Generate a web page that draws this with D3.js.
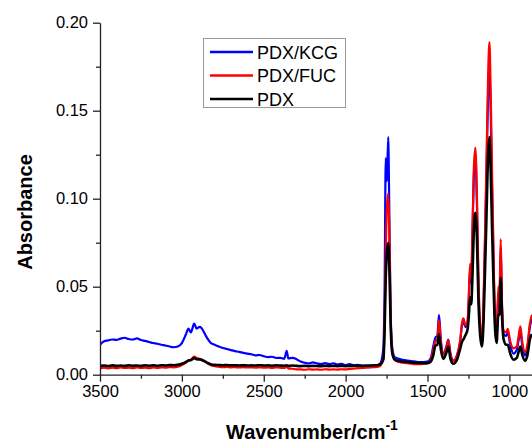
<!DOCTYPE html>
<html>
<head>
<meta charset="utf-8">
<script src="https://cdn.jsdelivr.net/npm/d3@7"></script>
<style>
  html, body { margin: 0; padding: 0; background: #fff; }
  svg { display: block; font-family: "Liberation Sans", Arial, sans-serif; }
</style>
</head>
<body>
<svg id="chart" width="532" height="444"></svg>
<script>
// FTIR spectra: wavenumber (cm^-1) and absorbance of each sample
const wavenumbers = [
  3500, 3475, 3450, 3425, 3400, 3375, 3350, 3325, 3300, 3275, 3250, 3225, 3200, 3175, 3150, 3125,
  3100, 3075, 3050, 3025, 3000, 2975, 2960, 2945, 2925, 2910, 2890, 2875, 2850, 2825, 2800, 2775,
  2750, 2725, 2700, 2675, 2650, 2625, 2600, 2575, 2550, 2525, 2500, 2475, 2450, 2425, 2400, 2375,
  2360, 2350, 2325, 2300, 2275, 2250, 2225, 2200, 2175, 2150, 2125, 2100, 2075, 2050, 2025, 2000,
  1975, 1950, 1925, 1900, 1875, 1850, 1825, 1800, 1785, 1770, 1762, 1755, 1748, 1740, 1733, 1725,
  1715, 1700, 1675, 1650, 1625, 1600, 1575, 1550, 1525, 1500, 1480, 1465, 1452, 1440, 1430, 1418,
  1403, 1385, 1373, 1360, 1342, 1320, 1300, 1290, 1281, 1268, 1255, 1248, 1240, 1233, 1226, 1218,
  1208, 1198, 1190, 1180, 1168, 1158, 1150, 1140, 1130, 1122, 1114, 1105, 1095, 1087, 1078, 1068,
  1060, 1053, 1045, 1035, 1020, 1010, 995, 975, 955, 945, 933, 922, 905, 890, 875, 862
];

const pdxKcg = [
  .0170, .0190, .0195, .0200, .0198, .0205, .0210, .0203, .0200, .0206, .0197, .0192, .0186, .0180, .0176, .0170,
  .0166, .0160, .0156, .0160, .0180, .0230, .0262, .0240, .0290, .0262, .0272, .0258, .0215, .0182, .0170, .0160,
  .0152, .0146, .0140, .0134, .0130, .0124, .0120, .0116, .0110, .0112, .0105, .0100, .0102, .0095, .0096, .0090,
  .0135, .0092, .0096, .0088, .0075, .0068, .0064, .0070, .0064, .0060, .0066, .0060, .0065, .0058, .0062, .0055,
  .0060, .0054, .0056, .0050, .0052, .0050, .0052, .0056, .0070, .0150, .0500, .1230, .1100, .1350, .0900, .0350,
  .0150, .0100, .0090, .0085, .0080, .0078, .0075, .0072, .0072, .0075, .0095, .0160, .0210, .0220, .0340, .0190,
  .0120, .0160, .0200, .0120, .0080, .0110, .0190, .0280, .0300, .0270, .0300, .0420, .0600, .0520, .0780, .1100,
  .1250, .0950, .0550, .0280, .0180, .0380, .0700, .1150, .1600, .1750, .1480, .1000, .0550, .0280, .0190, .0460,
  .0440, .0720, .0380, .0230, .0220, .0240, .0170, .0120, .0140, .0190, .0240, .0170, .0110, .0150, .0270, .0320
];

const pdxFuc = [
  .0035, .0040, .0036, .0040, .0037, .0041, .0038, .0040, .0037, .0041, .0038, .0040, .0037, .0041, .0039, .0042,
  .0040, .0043, .0042, .0045, .0055, .0070, .0082, .0085, .0103, .0095, .0090, .0085, .0070, .0055, .0048, .0045,
  .0043, .0044, .0042, .0043, .0041, .0043, .0041, .0042, .0040, .0042, .0040, .0041, .0039, .0041, .0040, .0038,
  .0045, .0036, .0034, .0030, .0030, .0028, .0031, .0029, .0030, .0028, .0031, .0029, .0030, .0029, .0031, .0030,
  .0033, .0035, .0037, .0038, .0040, .0041, .0043, .0045, .0055, .0090, .0300, .0700, .0950, .1030, .0800, .0320,
  .0130, .0085, .0072, .0068, .0065, .0063, .0060, .0060, .0062, .0065, .0085, .0140, .0190, .0200, .0310, .0180,
  .0115, .0155, .0195, .0115, .0078, .0110, .0200, .0290, .0320, .0280, .0310, .0450, .0630, .0550, .0800, .1150,
  .1290, .1000, .0600, .0300, .0200, .0420, .0750, .1200, .1700, .1890, .1600, .1100, .0600, .0300, .0200, .0500,
  .0480, .0770, .0400, .0250, .0240, .0260, .0190, .0150, .0160, .0210, .0275, .0190, .0130, .0170, .0290, .0340
];

const pdx = [
  .0050, .0052, .0049, .0053, .0050, .0052, .0050, .0053, .0051, .0052, .0050, .0053, .0051, .0053, .0051, .0054,
  .0052, .0055, .0054, .0056, .0062, .0072, .0080, .0083, .0094, .0088, .0086, .0082, .0070, .0060, .0056, .0055,
  .0054, .0055, .0053, .0054, .0052, .0054, .0052, .0053, .0052, .0054, .0052, .0053, .0051, .0053, .0052, .0051,
  .0053, .0050, .0052, .0050, .0049, .0050, .0048, .0050, .0049, .0048, .0050, .0049, .0050, .0049, .0050, .0049,
  .0050, .0051, .0051, .0050, .0051, .0052, .0053, .0055, .0062, .0085, .0250, .0550, .0700, .0750, .0600, .0280,
  .0120, .0085, .0078, .0074, .0072, .0070, .0068, .0067, .0066, .0066, .0075, .0110, .0165, .0170, .0230, .0140,
  .0090, .0125, .0160, .0090, .0062, .0085, .0150, .0185, .0200, .0225, .0260, .0330, .0440, .0400, .0550, .0800,
  .0920, .0760, .0450, .0240, .0160, .0300, .0550, .0900, .1250, .1350, .1150, .0800, .0450, .0250, .0180, .0340,
  .0340, .0550, .0330, .0200, .0170, .0170, .0120, .0085, .0095, .0125, .0160, .0115, .0080, .0110, .0200, .0230
];

const seriesNames = ["PDX/KCG", "PDX/FUC", "PDX"];
const seriesColors = ["#0000ff", "#ff0000", "#000000"];
const seriesValues = [pdxKcg, pdxFuc, pdx];

const xMajorTicks = [3500, 3000, 2500, 2000, 1500, 1000];
const xMinorTicks = [3250, 2750, 2250, 1750, 1250];
const yMajorTicks = [0.00, 0.05, 0.10, 0.15, 0.20];
const yMinorTicks = [0.025, 0.075, 0.125, 0.175];

const svg = d3.select("#chart");
const plotLeft = 100, plotRight = 532, plotTop = 22.7, plotBottom = 374.7;

const x = d3.scaleLinear().domain([3500, 862]).range([plotLeft, plotRight]);
const y = d3.scaleLinear().domain([0, 0.20]).range([plotBottom, plotTop]);

svg.append("defs").append("clipPath").attr("id", "plot-clip")
  .append("rect").attr("x", plotLeft).attr("y", plotTop - 5)
  .attr("width", plotRight - plotLeft).attr("height", plotBottom - plotTop + 5);

// spectra, blue first so the black trace sits on top
const line = d3.line()
  .x(d => x(d[0]))
  .y(d => y(d[1]))
  .curve(d3.curveMonotoneX);

const widths = [2.2, 2.2, 2.6];
const plot = svg.append("g").attr("clip-path", "url(#plot-clip)");
seriesValues.forEach((vals, i) => {
  plot.append("path")
    .datum(wavenumbers.map((w, j) => [w, vals[j]]))
    .attr("fill", "none")
    .attr("stroke", seriesColors[i])
    .attr("stroke-width", widths[i])
    .attr("stroke-linejoin", "round")
    .attr("d", line);
});

// axes
const axisColor = "#222";
const fmtY = d3.format(".2f");
const fmtX = d3.format("d");

const gx = svg.append("g").attr("transform", `translate(0,${plotBottom})`);
gx.call(d3.axisBottom(x).tickValues(xMajorTicks).tickSize(7).tickSizeOuter(0).tickPadding(4).tickFormat(fmtX));
gx.selectAll(".tick text").attr("font-size", 16.5).attr("fill", "#000")
  .attr("font-family", "Liberation Sans, Arial, sans-serif");
const gxMinor = svg.append("g").attr("transform", `translate(0,${plotBottom})`);
gxMinor.call(d3.axisBottom(x).tickValues(xMinorTicks).tickSize(4).tickSizeOuter(0).tickFormat(""));
gxMinor.select(".domain").remove();

const gy = svg.append("g").attr("transform", `translate(${plotLeft},0)`);
gy.call(d3.axisLeft(y).tickValues(yMajorTicks).tickSize(7).tickSizeOuter(0).tickPadding(5).tickFormat(fmtY));
gy.selectAll(".tick text").attr("font-size", 16.5).attr("fill", "#000")
  .attr("font-family", "Liberation Sans, Arial, sans-serif");
const gyMinor = svg.append("g").attr("transform", `translate(${plotLeft},0)`);
gyMinor.call(d3.axisLeft(y).tickValues(yMinorTicks).tickSize(4).tickSizeOuter(0).tickFormat(""));
gyMinor.select(".domain").remove();

svg.selectAll(".domain, .tick line").attr("stroke", axisColor).attr("stroke-width", 1.3);

// axis titles
const xTitle = svg.append("text")
  .attr("x", 312).attr("y", 439)
  .attr("text-anchor", "middle")
  .attr("font-size", 20).attr("font-weight", "bold").attr("fill", "#000");
xTitle.append("tspan").text("Wavenumber/cm");
xTitle.append("tspan").attr("font-size", 14).attr("dy", -9).text("-1");

svg.append("text")
  .attr("transform", "translate(32,212) rotate(-90)")
  .attr("text-anchor", "middle")
  .attr("font-size", 20).attr("font-weight", "bold").attr("fill", "#000")
  .text("Absorbance");

// legend
const legend = svg.append("g");
legend.append("rect")
  .attr("x", 203.5).attr("y", 38.5).attr("width", 142).attr("height", 69)
  .attr("fill", "#fff").attr("stroke", "#999").attr("stroke-width", 1);
seriesNames.forEach((name, i) => {
  const cy = 52 + i * 23.5;
  legend.append("line")
    .attr("x1", 210).attr("x2", 253).attr("y1", cy).attr("y2", cy)
    .attr("stroke", seriesColors[i]).attr("stroke-width", 2.4);
  legend.append("text")
    .attr("x", 257).attr("y", cy + 6.5)
    .attr("font-size", 18).attr("fill", "#000")
    .text(name);
});
</script>
</body>
</html>
